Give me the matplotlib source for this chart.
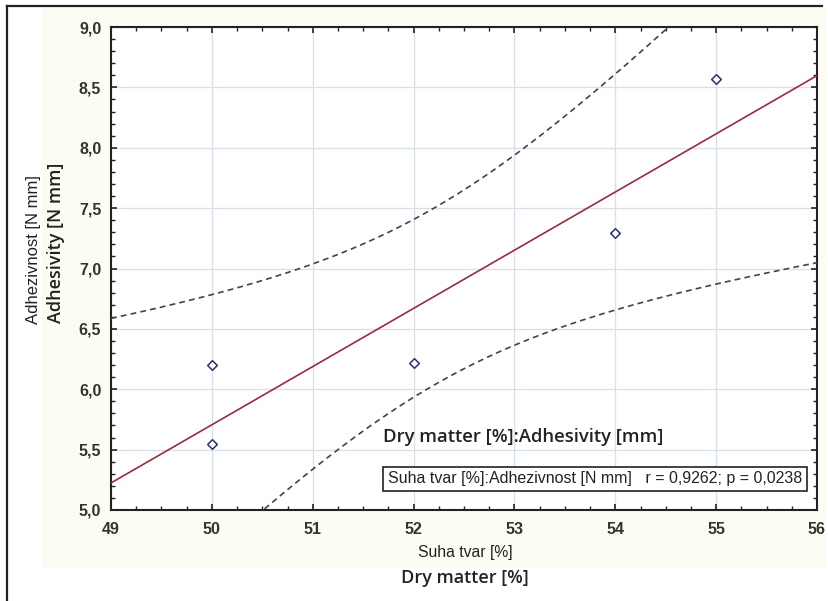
import numpy as np
import matplotlib
matplotlib.use('Agg')
from matplotlib import pyplot as plt
from matplotlib.patches import Rectangle
from matplotlib.lines import Line2D
from matplotlib.ticker import MultipleLocator, FuncFormatter

#%% data
dry_matter = [50, 50, 52, 54, 55]
adhesivity = [6.20, 5.55, 6.22, 7.29, 8.57]
x_ticks = [49, 50, 51, 52, 53, 54, 55, 56]
y_ticks = [5.0, 5.5, 6.0, 6.5, 7.0, 7.5, 8.0, 8.5, 9.0]
t_crit = 3.182  # t(0.975, df=3)

#%% linear fit + 95% confidence band for the mean
x = np.array(dry_matter, dtype=float)
y = np.array(adhesivity, dtype=float)
slope, intercept = np.polyfit(x, y, 1)
resid = y - (slope * x + intercept)
s = np.sqrt((resid ** 2).sum() / (len(x) - 2))
sxx = ((x - x.mean()) ** 2).sum()

xs = np.linspace(x_ticks[0], x_ticks[-1], 300)
fit = slope * xs + intercept
band = t_crit * s * np.sqrt(1 / len(x) + (xs - x.mean()) ** 2 / sxx)

#%% figure
fig = plt.figure(figsize=(8.29, 6.01), dpi=100)
fig.patch.set_facecolor('white')

# cream panel + outer frame like the scanned figure
fig.patches.append(Rectangle((42 / 829, 1 - 568 / 601), 783 / 829, 560 / 601,
                             transform=fig.transFigure, facecolor='#fdfcf2',
                             edgecolor='none', zorder=-5))
fig.lines.append(Line2D([7 / 829, 7 / 829], [0, 1 - 6 / 601], transform=fig.transFigure,
                        color='#222222', lw=1.6, zorder=-5))
fig.lines.append(Line2D([7 / 829, 822 / 829], [1 - 6 / 601, 1 - 6 / 601],
                        transform=fig.transFigure, color='#222222', lw=1.6, zorder=-5))

ax = fig.add_axes([111 / 829, 1 - 510 / 601, 706 / 829, 483 / 601])
ax.set_zorder(2)
ax.set_facecolor('white')

ax.plot(xs, fit, color='#9a2a45', lw=1.2, zorder=3)
ax.plot(xs, fit + band, color='#4a4048', lw=1.2, ls=(0, (3.5, 2.5)), zorder=3)
ax.plot(xs, fit - band, color='#4a4048', lw=1.2, ls=(0, (3.5, 2.5)), zorder=3)
ax.scatter(dry_matter, adhesivity, marker='D', s=24, facecolor='white',
           edgecolor='#2a3070', linewidth=1.1, zorder=4)

ax.set_xlim(x_ticks[0], x_ticks[-1])
ax.set_ylim(y_ticks[0], y_ticks[-1])
ax.set_xticks(x_ticks)
ax.set_yticks(y_ticks)
ax.xaxis.set_minor_locator(MultipleLocator(0.25))
ax.yaxis.set_minor_locator(MultipleLocator(0.1))
ax.yaxis.set_major_formatter(FuncFormatter(lambda v, p: f'{v:.1f}'.replace('.', ',')))
ax.tick_params(which='both', direction='in', top=True, right=True, color='#222222')
ax.tick_params(which='major', length=4, width=1.2)
ax.tick_params(which='minor', length=3, width=1.0)
ax.tick_params(axis='x', which='major', pad=9)
ax.tick_params(axis='y', which='major', pad=7)
for lab in ax.get_xticklabels() + ax.get_yticklabels():
    lab.set_fontfamily('Liberation Sans')
    lab.set_fontweight('bold')
    lab.set_fontsize(11.5)
    lab.set_color('#333333')
for sp in ax.spines.values():
    sp.set_linewidth(1.5)
    sp.set_color('#222222')
ax.grid(True, which='major', color='#d8dfe9', lw=0.9)
ax.set_axisbelow(True)

# axis titles
fig.text(34 / 829, 1 - 250 / 601, 'Adhezivnost [N mm]', rotation=90, ha='center', va='center',
         family='Liberation Sans', fontsize=12, color='#222222')
fig.text(56 / 829, 1 - 243 / 601, 'Adhesivity [N mm]', rotation=90, ha='center', va='center',
         family='Open Sans', fontweight='semibold', fontsize=13, color='#222222')
fig.text(465 / 829, 1 - 553 / 601, 'Suha tvar [%]', ha='center', va='center',
         family='Liberation Sans', fontsize=11.3, color='#222222')
fig.text(465 / 829, 1 - 578 / 601, 'Dry matter [%]', ha='center', va='center',
         family='Open Sans', fontweight='semibold', fontsize=13, color='#222222')

# in-plot labels
ax.text((383 - 111) / 706, 1 - (437 - 27) / 483, 'Dry matter [%]:Adhesivity [mm]',
        transform=ax.transAxes, ha='left', va='center', family='Open Sans',
        fontweight='semibold', fontsize=13.3, color='#222222')
ax.text((595 - 111) / 706, 1 - (479 - 27) / 483,
        'Suha tvar [%]:Adhezivnost [N mm]   r = 0,9262; p = 0,0238',
        transform=ax.transAxes, ha='center', va='center', family='Liberation Sans',
        fontsize=11.5, color='#222222', zorder=6,
        bbox=dict(boxstyle='square,pad=0.3', facecolor='white', edgecolor='#222222', lw=1.2))

fig.savefig('out.png', dpi=100)
